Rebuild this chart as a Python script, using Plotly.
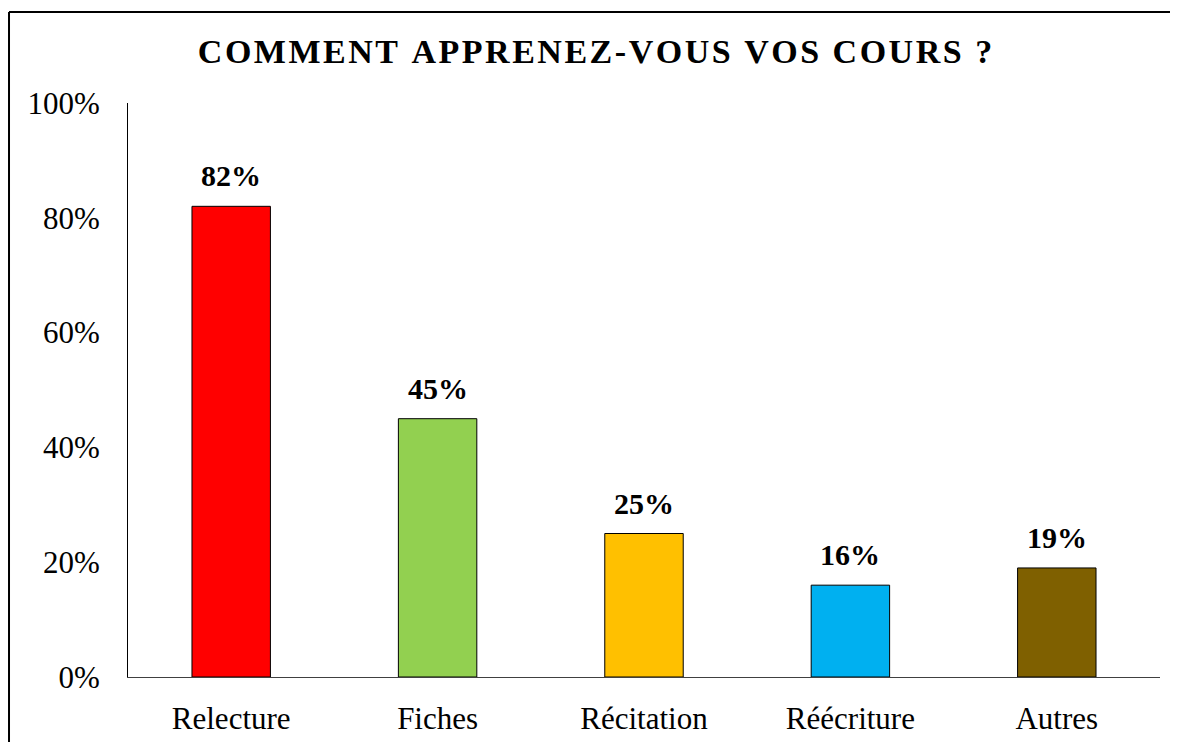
import plotly.graph_objects as go

categories = ['Relecture', 'Fiches', 'Récitation', 'Réécriture', 'Autres']
values = [0.82, 0.45, 0.25, 0.16, 0.19]
labels = ['82%', '45%', '25%', '16%', '19%']
colors = ['#FF0000', '#92D050', '#FFC000', '#00B0F0', '#7F6000']
y_ticks = [0, 0.2, 0.4, 0.6, 0.8, 1.0]
y_ticktext = ['0%', '20%', '40%', '60%', '80%', '100%']

title_text = 'COMMENT APPRENEZ-VOUS VOS COURS ?'
# fake letter spacing: a tiny non-breaking space between every character
spacer = '<span style="font-size:10px">\u00a0</span>'
spaced_title = spacer.join('\u00a0' if c == ' ' else c for c in title_text)

SERIF = 'Liberation Serif, Times New Roman, serif'

fig = go.Figure()
fig.add_trace(go.Bar(
    x=categories,
    y=values,
    width=0.38,
    marker=dict(color=colors, line=dict(color='black', width=1)),
    hoverinfo='skip',
))

for cat, val, lab in zip(categories, values, labels):
    fig.add_annotation(
        x=cat, y=val, text='<b>' + lab + '</b>',
        showarrow=False, yanchor='bottom', yshift=12,
        font=dict(family=SERIF, size=30, color='black'),
    )

# outer frame (only top and left edges fall inside the window)
fig.add_shape(type='line', xref='paper', yref='paper',
              x0=-0.1153, x1=1.05, y0=1.1585, y1=1.1585,
              line=dict(color='black', width=2))
fig.add_shape(type='line', xref='paper', yref='paper',
              x0=-0.1153, x1=-0.1153, y0=1.1585, y1=-0.2,
              line=dict(color='black', width=2))

fig.update_layout(
    width=1178,
    height=742,
    margin=dict(l=120, r=26, t=95, b=73),
    paper_bgcolor='white',
    plot_bgcolor='white',
    showlegend=False,
    title=dict(
        text='<b>' + spaced_title + '</b>',
        x=0.4983, xref='container', xanchor='center',
        y=1 - 43 / 742, yref='container', yanchor='middle',
        font=dict(family=SERIF, size=34, color='black'),
    ),
    xaxis=dict(
        showgrid=False,
        zeroline=False,
        showline=True,
        linecolor='#404040',
        linewidth=1,
        ticks='',
        ticklabelstandoff=14,
        tickfont=dict(family=SERIF, size=31, color='black'),
    ),
    yaxis=dict(
        range=[0, 1],
        showgrid=False,
        zeroline=False,
        showline=True,
        linecolor='black',
        linewidth=1,
        ticks='',
        tickvals=y_ticks,
        ticktext=y_ticktext,
        ticklabelstandoff=21,
        tickfont=dict(family=SERIF, size=31, color='black'),
    ),
)

fig.write_html('out.html')
